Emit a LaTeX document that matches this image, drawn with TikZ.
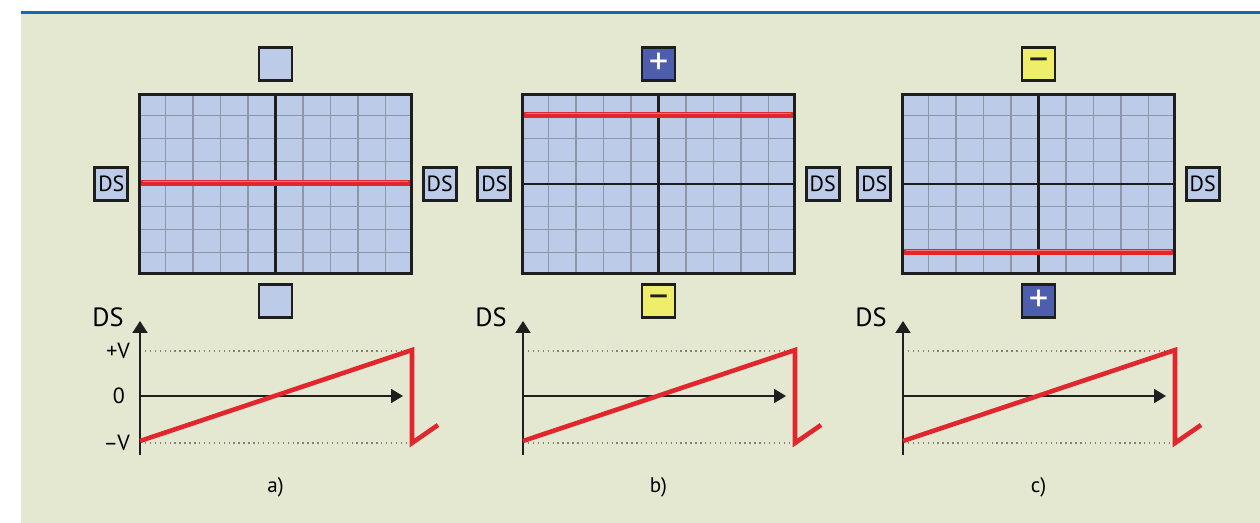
\documentclass[tikz,border=0pt]{standalone}
\usepackage{fontspec}
\setmainfont{PT Sans}
\usetikzlibrary{arrows.meta}
\usetikzlibrary{positioning}

\definecolor{bgpanel}{RGB}{228,232,208}
\definecolor{rulecol}{RGB}{24,104,176}
\definecolor{screen}{RGB}{187,203,232}
\definecolor{gridgray}{RGB}{140,152,170}
\definecolor{plusblue}{RGB}{76,94,172}
\definecolor{minusyellow}{RGB}{238,238,106}
\definecolor{beam}{RGB}{226,38,46}
\definecolor{beamhi}{RGB}{246,120,122}
\definecolor{framecol}{RGB}{30,30,30}

\tikzset{
  knob/.style={rectangle,draw=framecol,line width=1.6pt,fill=screen,minimum size=0.66cm,inner sep=0pt,font=\fontsize{12.5}{14}\selectfont},
  knobplus/.style={knob,fill=plusblue,text=white,font=\fontsize{22}{22}\selectfont},
  knobminus/.style={knob,fill=minusyellow,text=framecol,font=\fontsize{22}{22}\selectfont},
  screenbox/.style={rectangle,fill=screen,minimum width=5.44cm,minimum height=3.58cm,inner sep=0pt},
  gridline/.style={gridgray,line width=0.8pt},
  centerline/.style={framecol,line width=1.4pt},
  beamline/.style={beam,line width=3.4pt,line cap=round},
  beamglow/.style={beamhi,line width=0.9pt},
  axis/.style={framecol,line width=1.1pt},
  level/.style={gray,dotted,line width=0.8pt},
  ramp/.style={beam,line width=2.6pt,line join=miter},
  ticklbl/.style={anchor=east,font=\fontsize{12.5}{14}\selectfont,inner sep=1pt}
}

\begin{document}
\begin{tikzpicture}[x=0.02cm,y=-0.02cm]
\useasboundingbox (0,0) rectangle (1260,523);
\fill[bgpanel] (21,14) rectangle (1260,523);
\draw[rulecol,line width=1.7pt] (21,12.5) -- (1260,12.5);

\foreach \L/\by/\topst/\toptxt/\botst/\bottxt/\tag in {138/183/knob/{}/knob/{}/a, 521/115/knobplus/+/knobminus/--/b, 901/252/knobminus/--/knobplus/+/c}{
  % screen with grid
  \node[screenbox] (scr-\tag) at (\L+137.5,184) {};
  \foreach \i in {1,...,9} \draw[gridline] (\L+\i*27.5,94) -- (\L+\i*27.5,274);
  \foreach \j in {1,...,7} \draw[gridline] (\L+1,93+\j*22.75) -- (\L+274,93+\j*22.75);
  \draw[centerline] (scr-\tag.north) -- (scr-\tag.south);
  \draw[centerline] (scr-\tag.west) -- (scr-\tag.east);
  \draw[beamline] (\L+4,\by) -- (\L+271,\by);
  \draw[beamglow] (\L+5,\by-1.5) -- (\L+270,\by-1.5);
  \draw[framecol,line width=1.7pt] (scr-\tag.north west) rectangle (scr-\tag.south east);
  % deflection plates
  \node[\topst,above=0.25cm of scr-\tag] (top-\tag) {\toptxt};
  \node[\botst,below=0.19cm of scr-\tag] (bot-\tag) {\bottxt};
  \node[knob,left=0.2cm of scr-\tag] (dsl-\tag) {DS};
  \node[knob,right=0.2cm of scr-\tag] (dsr-\tag) {DS};
  % sweep graph
  \coordinate (org-\tag) at (\L+2,396);
  \coordinate (ybot-\tag) at (\L+2,455);
  \coordinate (ytop-\tag) at (\L+2,321);
  \coordinate (xend-\tag) at (\L+265,396);
  \draw[level] (\L+2,351) -- (\L+274,351);
  \draw[level] (\L+2,443) -- (\L+274,443);
  \draw[axis,-{Triangle[length=0.24cm,width=0.3cm]}] (ybot-\tag) -- (ytop-\tag);
  \draw[axis,-{Triangle[length=0.24cm,width=0.28cm]}] (org-\tag) -- (xend-\tag);
  \draw[ramp] (\L+2,441) -- (\L+274,350) -- (\L+274,443) -- (\L+300,425);
  \node[font=\fontsize{15}{17}\selectfont] (ds-\tag) at (\L-30,317) {DS};
  \node[font=\fontsize{12}{14}\selectfont] (cap-\tag) at (\L+137.5,487) {\tag)};
}

\node[ticklbl] (vp) at (132,351) {+V};
\node[ticklbl] (vz) at (127,396) {0};
\node[ticklbl] (vm) at (132,443) {–V};

\end{tikzpicture}
\end{document}
